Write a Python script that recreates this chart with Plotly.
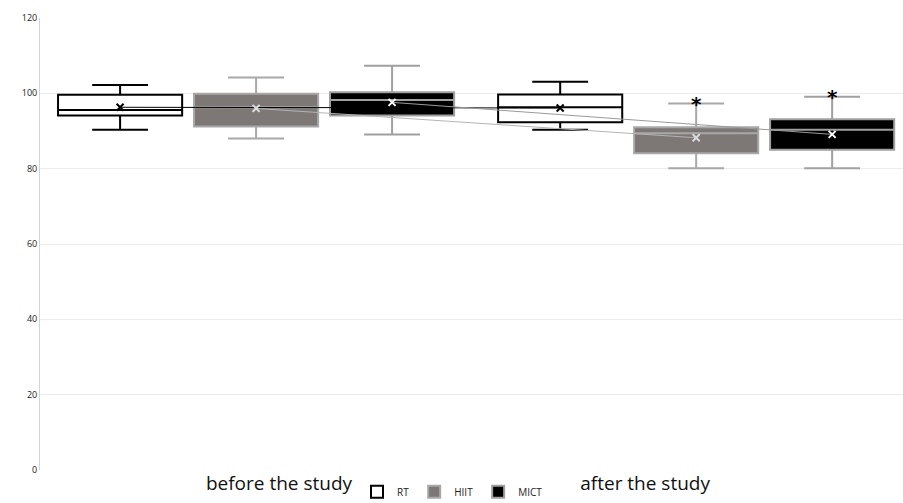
import plotly.graph_objects as go

# Box statistics per training group, before / after the study
periods = ["before the study", "after the study"]
groups = ["RT", "HIIT", "MICT"]

lower = {"RT": [90.3, 90.3], "HIIT": [88.0, 80.1], "MICT": [89.1, 80.1]}
q1 = {"RT": [94.1, 92.3], "HIIT": [91.2, 84.1], "MICT": [94.1, 85.0]}
median = {"RT": [95.6, 96.3], "HIIT": [96.3, 89.4], "MICT": [98.2, 90.3]}
q3 = {"RT": [99.6, 99.7], "HIIT": [99.9, 91.0], "MICT": [100.3, 93.1]}
upper = {"RT": [102.2, 103.1], "HIIT": [104.2, 97.3], "MICT": [107.3, 99.1]}
mean = {"RT": [96.3, 96.1], "HIIT": [96.0, 88.2], "MICT": [97.6, 89.1]}

# significance markers (after the study)
star_groups = ["HIIT", "MICT"]
star_y = [99.4, 101.1]

y_ticks = [0, 20, 40, 60, 80, 100, 120]

# styling
fill = {"RT": "#ffffff", "HIIT": "#7d7876", "MICT": "#000000"}
edge = {"RT": "#000000", "HIIT": "#a8a8a8", "MICT": "#a0a0a0"}
mean_line = {"RT": "#000000", "HIIT": "#b4b4b4", "MICT": "#9a9a9a"}
mean_mark = {"RT": "#000000", "HIIT": "#dcdcdc", "MICT": "#ffffff"}
offset = {"RT": -0.309, "HIIT": 0.0, "MICT": 0.309}
box_w = 0.282

fig = go.Figure()

for g in groups:
    xs = [i + offset[g] for i in range(len(periods))]
    fig.add_trace(go.Box(
        name=g, x=xs,
        q1=q1[g], median=median[g], q3=q3[g],
        lowerfence=lower[g], upperfence=upper[g],
        width=box_w, whiskerwidth=0.45,
        fillcolor=fill[g],
        line=dict(color=edge[g], width=2),
        boxpoints=False, hoverinfo="skip",
        showlegend=True,
    ))

for g in groups:
    xs = [i + offset[g] for i in range(len(periods))]
    fig.add_trace(go.Scatter(
        x=xs, y=mean[g], mode="lines+markers",
        line=dict(color=mean_line[g], width=1),
        marker=dict(symbol="x-thin", size=7, line=dict(color=mean_mark[g], width=2)),
        showlegend=False, hoverinfo="skip",
    ))

fig.add_trace(go.Scatter(
    x=[1 + offset[g] for g in star_groups], y=star_y,
    mode="text", text=["<b>*</b>"] * len(star_groups),
    textposition="bottom center",
    textfont=dict(size=20, color="#000000", family="DejaVu Sans"),
    showlegend=False, hoverinfo="skip",
))

fig.update_layout(
    width=903, height=503,
    margin=dict(l=40, r=0, t=18, b=33, autoexpand=False),
    plot_bgcolor="#ffffff", paper_bgcolor="#ffffff",
    font=dict(family="Open Sans", color="#222222"),
    legend=dict(orientation="h", x=0.478, xanchor="center",
                y=-0.048, yanchor="middle",
                font=dict(size=10, color="#222222"), itemwidth=30,
                tracegroupgap=0, bgcolor="rgba(0,0,0,0)"),
    xaxis=dict(range=[-0.491, 1.47], tickmode="array",
               tickvals=[0.052, 0.884], ticktext=periods,
               tickfont=dict(size=19, color="#111111"),
               showgrid=False, zeroline=False, showline=False, ticks="",
               automargin=False),
    yaxis=dict(range=[0, 120], tickvals=y_ticks,
               tickfont=dict(size=9, color="#222222"),
               gridcolor="#ececec", zeroline=False,
               showline=True, linecolor="#d4d4d4", linewidth=1, ticks="",
               automargin=False),
)

fig.write_html("out.html")
